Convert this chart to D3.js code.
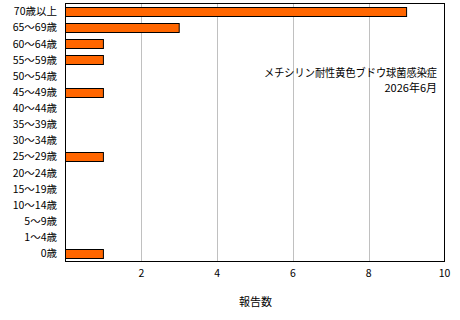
<!DOCTYPE html>
<html><head><meta charset="utf-8">
<script src="https://cdn.jsdelivr.net/npm/d3@7"></script>
<style>body{margin:0;background:#fff}svg{display:block}text{font-family:"Noto Sans CJK JP",sans-serif;}</style>
</head><body>
<svg id="c" width="460" height="320"></svg>
<script>
const categories = ["70歳以上","65〜69歳","60〜64歳","55〜59歳","50〜54歳","45〜49歳","40〜44歳","35〜39歳","30〜34歳","25〜29歳","20〜24歳","15〜19歳","10〜14歳","5〜9歳","1〜4歳","0歳"];
const values = [9,3,1,1,0,1,0,0,0,1,0,0,0,0,0,1];
const xTicks = [2,4,6,8,10];
const titleLines = ["メチシリン耐性黄色ブドウ球菌感染症","2026年6月"];
const xTitle = "報告数";

const svg = d3.select("#c");
const L = 65.5, R = 444.5, T = 3.5, B = 261.5;
const x = d3.scaleLinear().domain([0,10]).range([L,R]);
const y = d3.scaleBand().domain(categories).range([T,B]).paddingInner(0.42).paddingOuter(0.21);

// gridlines
svg.append("g").selectAll("line").data(xTicks.filter(d=>d<10)).join("line")
  .attr("x1",d=>Math.round(x(d))+0.5).attr("x2",d=>Math.round(x(d))+0.5)
  .attr("y1",T).attr("y2",B).attr("stroke","#c0c0c0").attr("stroke-width",1);

// bars
svg.append("g").selectAll("rect").data(categories.map((c,i)=>({c,v:values[i]})).filter(d=>d.v>0)).join("rect")
  .attr("x",x(0)).attr("y",d=>Math.round(y(d.c))+0.5)
  .attr("width",d=>x(d.v)-x(0)).attr("height",Math.round(y.bandwidth()))
  .attr("fill","#ff6600").attr("stroke","#000").attr("stroke-width",1);

// frame
svg.append("rect").attr("x",L).attr("y",T).attr("width",R-L).attr("height",B-T)
  .attr("fill","none").attr("stroke","#000").attr("stroke-width",1);

// y labels
svg.append("g").selectAll("text").data(categories).join("text")
  .attr("x",57).attr("y",d=>y(d)+y.bandwidth()/2).attr("dy","0.36em")
  .attr("text-anchor","end").attr("font-size",10.5).attr("fill","#000").text(d=>d);

// x tick labels
svg.append("g").selectAll("text").data(xTicks).join("text")
  .attr("x",d=>x(d)).attr("y",277).attr("text-anchor","middle")
  .attr("font-size",10.5).attr("fill","#000").text(d=>d);

// x title
svg.append("text").attr("x",(L+R)/2+0.5).attr("y",306).attr("text-anchor","middle")
  .attr("font-size",11).attr("fill","#000").text(xTitle);

// annotation
svg.append("g").selectAll("text").data(titleLines).join("text")
  .attr("x",437).attr("y",(d,i)=>77+i*14.5).attr("text-anchor","end")
  .attr("font-size",11).attr("fill","#000")
  .attr("textLength",(d,i)=>i===0?173:null)
  .attr("lengthAdjust","spacingAndGlyphs")
  .text(d=>d);
</script>
</body></html>
